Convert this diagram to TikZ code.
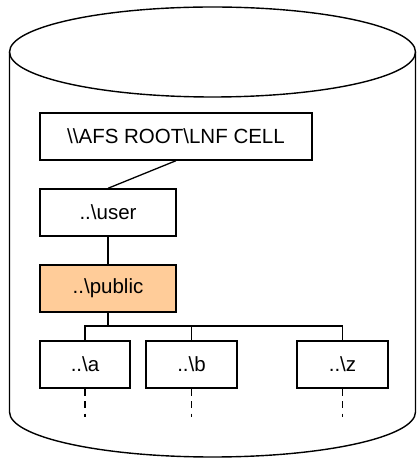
\documentclass[tikz,border=0pt]{standalone}
\usepackage{fontspec}
\setmainfont{Liberation Sans}
\begin{document}
\begin{tikzpicture}[x=1pt,y=1pt,
  dirbox/.style={draw=black, line width=1.4pt, fill=white, rectangle,
    inner sep=0pt, minimum height=47pt,
    font=\fontsize{20.5}{24}\selectfont},
  link/.style={draw=black, line width=1.3pt},
  trunk/.style={draw=black, line width=1.8pt},
  more/.style={draw=black, line width=1.4pt, dash pattern=on 7pt off 5.5pt},
  drum/.style={draw=black, line width=1.4pt}]
\useasboundingbox (0,0) rectangle (417,458);

% storage cylinder
\draw[drum] (9.5,406) -- (9.5,46)
  arc[start angle=180, end angle=360, x radius=203, y radius=45] -- (415.5,406);
\draw[drum] (212.5,406) ellipse [x radius=203, y radius=45];

% directory tree
\node[dirbox, minimum width=272pt] (root) at (176,321.5) {\textbackslash\textbackslash AFS ROOT\textbackslash LNF CELL};
\node[dirbox, minimum width=136pt] (user) at (108,245.5) {..\textbackslash user};
\node[dirbox, minimum width=136pt, fill={rgb,255:red,255;green,204;blue,153}] (pub) at (108,169.5) {..\textbackslash public};
\node[dirbox, minimum width=90pt] (a) at (85,93.5) {..\textbackslash a};
\node[dirbox, minimum width=91pt] (b) at (191.5,93.5) {..\textbackslash b};
\node[dirbox, minimum width=91pt] (z) at (342.5,93.5) {..\textbackslash z};

\coordinate (j) at (108,132);
\coordinate (ea) at (85,41);
\coordinate (eb) at (191.5,41);
\coordinate (ez) at (342.5,41);

\draw[link] (root.south) -- (user.north);
\draw[link] (user.south) -- (pub.north);
\draw[link] (j) -| (a.north);
\draw[link] (j) -| (z.north);
\draw[trunk] (pub.south) -- (j) -| (b.north);

\draw[more] (a.south) -- (ea);
\draw[more] (b.south) -- (eb);
\draw[more] (z.south) -- (ez);
\end{tikzpicture}
\end{document}
